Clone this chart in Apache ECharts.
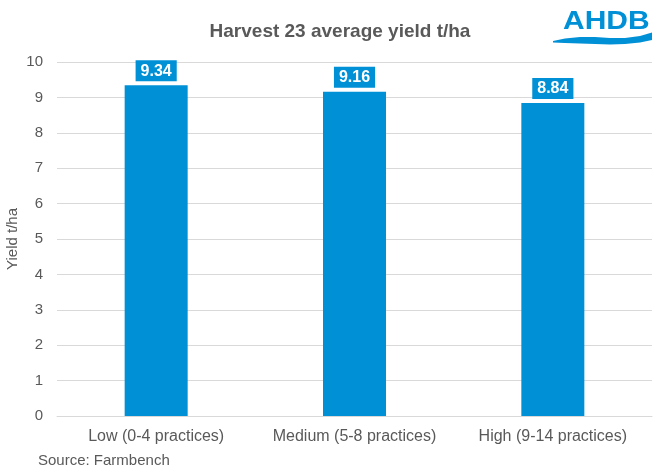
<!DOCTYPE html>
<html><head><meta charset="utf-8">
<script src="https://cdn.jsdelivr.net/npm/echarts@6/dist/echarts.min.js"></script>
<style>html,body{margin:0;padding:0;background:#fff}#c{width:663px;height:469px}</style>
</head><body><div id="c"></div>
<script>
const categories = ['Low (0-4 practices)', 'Medium (5-8 practices)', 'High (9-14 practices)'];
const yieldValues = [9.34, 9.16, 8.84];
const yTicks = [0, 1, 2, 3, 4, 5, 6, 7, 8, 9, 10];
const titleText = 'Harvest 23 average yield t/ha';
const yAxisTitle = 'Yield t/ha';
const sourceText = 'Source: Farmbench';

const blue = '#0090D6';
const grey = '#595959';
const font = 'Liberation Sans, Arial';
const chart = echarts.init(document.getElementById('c'));
chart.setOption({
  animation: false,
  title: { text: titleText, left: 335, top: 17, textAlign: 'center',
    textStyle: { fontFamily: font, fontSize: 19, fontWeight: 'bold', color: grey } },
  grid: { left: 57, right: 11, top: 62, bottom: 53, containLabel: false, outerBoundsMode: 'none' },
  xAxis: { type: 'category', data: categories,
    axisLine: { show: true, lineStyle: { color: '#d9d9d9' } },
    axisTick: { show: false },
    axisLabel: { interval: 0, fontFamily: font, fontSize: 16, color: grey, margin: 13 } },
  yAxis: { type: 'value', min: yTicks[0], max: yTicks[yTicks.length - 1], interval: 1,
    name: yAxisTitle, nameLocation: 'middle', nameGap: 37, nameRotate: 90, nameMoveOverlap: false,
    nameTextStyle: { fontFamily: font, fontSize: 15, color: grey },
    axisLine: { show: false }, axisTick: { show: false },
    axisLabel: { fontFamily: font, fontSize: 15, color: grey, margin: 14 },
    splitLine: { lineStyle: { color: '#d9d9d9' } } },
  series: [{ type: 'bar', data: yieldValues, barWidth: 63, itemStyle: { color: blue },
    label: { show: true, position: 'top', distance: 4, formatter: p => p.value.toFixed(2),
      backgroundColor: blue, color: '#fff', fontFamily: font,
      fontSize: 16, fontWeight: 'bold', padding: [3, 5, 2, 5] } }],
  graphic: [
    { type: 'text', left: 38, top: 453, style: { text: sourceText, fontFamily: font, fontSize: 15, fill: grey } },
    { type: 'text', x: 563, y: 9, scaleX: 1.25, scaleY: 1.05, style: { text: 'AHDB', fontFamily: font, fontSize: 24, fontWeight: 'bold', fill: blue } },
    { type: 'polygon', shape: { points: [[553,41],[565,38.5],[580,37],[595,37],[610,38],[625,38],[640,36],[652,32.5],[652,40],[640,42.5],[625,44],[610,44.5],[595,44],[580,43.5],[565,43],[553,42.5]] }, style: { fill: blue } }
  ]
});
</script></body></html>
